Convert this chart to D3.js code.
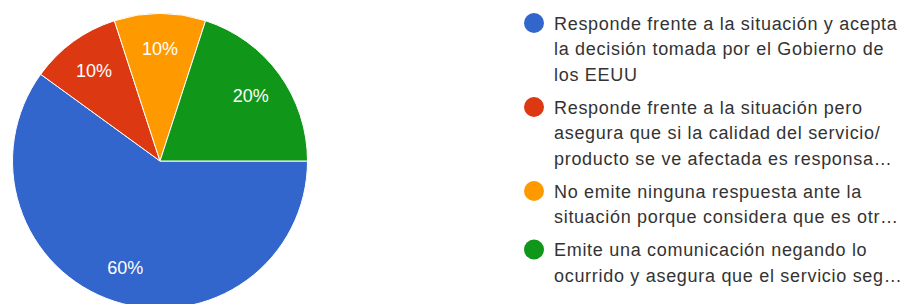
<!DOCTYPE html>
<html>
<head>
<meta charset="utf-8">
<script src="https://cdn.jsdelivr.net/npm/d3@7"></script>
<style>
  html, body { margin: 0; padding: 0; background: #fff; }
  svg { display: block; font-family: "Liberation Sans", Arial, sans-serif; }
</style>
</head>
<body>
<svg id="chart"></svg>
<script>
// answers, in drawing order (clockwise from 3 o'clock)
const categories = [
  "Responde frente a la situación y acepta la decisión tomada por el Gobierno de los EEUU",
  "Responde frente a la situación pero asegura que si la calidad del servicio/producto se ve afectada es responsa…",
  "No emite ninguna respuesta ante la situación porque considera que es otr…",
  "Emite una comunicación negando lo ocurrido y asegura que el servicio seg…"
];
const values = [60, 10, 10, 20];
const colors = ["#3366cc", "#dc3912", "#ff9900", "#109618"];

// legend text as it wraps in the picture
const legendLines = [
  ["Responde frente a la situación y acepta", "la decisión tomada por el Gobierno de", "los EEUU"],
  ["Responde frente a la situación pero", "asegura que si la calidad del servicio/", "producto se ve afectada es responsa…"],
  ["No emite ninguna respuesta ante la", "situación porque considera que es otr…"],
  ["Emite una comunicación negando lo", "ocurrido y asegura que el servicio seg…"]
];

const W = 906, H = 304;
const cx = 160, cy = 161, r = 147.5;

const svg = d3.select("#chart")
  .attr("width", W)
  .attr("height", H);

const total = d3.sum(values);
const data = values.map((v, i) => ({ label: categories[i], value: v, color: colors[i] }));

// pie starts at 3 o'clock and goes clockwise
const pie = d3.pie()
  .sort(null)
  .value(d => d.value)
  .startAngle(Math.PI / 2)
  .endAngle(Math.PI / 2 + 2 * Math.PI);

const arc = d3.arc().innerRadius(0).outerRadius(r);
const labelArc = d3.arc().innerRadius(r * 0.76).outerRadius(r * 0.76);

const g = svg.append("g")
  .attr("transform", `translate(${cx},${cy})`);

const arcs = pie(data);

g.selectAll("path")
  .data(arcs)
  .join("path")
  .attr("d", arc)
  .attr("fill", d => d.data.color)
  .attr("stroke", "#fff")
  .attr("stroke-width", 1);

g.selectAll("text")
  .data(arcs)
  .join("text")
  .attr("transform", d => `translate(${labelArc.centroid(d)})`)
  .attr("text-anchor", "middle")
  .attr("dy", "0.36em")
  .attr("fill", "#fff")
  .attr("font-size", 18)
  .text(d => Math.round(d.data.value / total * 100) + "%");

// legend
const lineH = 25.5, gap = 7.5;
const legend = svg.append("g").attr("transform", "translate(534,23)");

let yOff = 0;
legendLines.forEach((lines, i) => {
  const item = legend.append("g").attr("transform", `translate(0,${yOff})`);
  item.append("circle")
    .attr("r", 10)
    .attr("fill", colors[i]);
  item.selectAll("text")
    .data(lines)
    .join("text")
    .attr("x", 20)
    .attr("y", (d, j) => j * lineH + 6.5)
    .attr("fill", "#333")
    .attr("font-size", 18)
    .attr("letter-spacing", 0.7)
    .text(d => d);
  yOff += lines.length * lineH + gap;
});
</script>
</body>
</html>
